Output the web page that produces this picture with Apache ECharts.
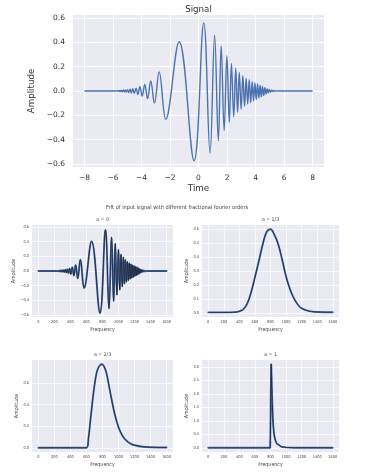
<!DOCTYPE html>
<html><head><meta charset="utf-8">
<script src="https://cdn.jsdelivr.net/npm/echarts@6/dist/echarts.min.js"></script>
<style>html,body{margin:0;padding:0;background:#fff}#c{width:375px;height:474px}</style>
</head><body><div id="c"></div><script>
// ---- Signal (time domain): extrema of the chirp ----
const sigT = [-8, -5.85, -5.75, -5.712, -5.672, -5.63, -5.586, -5.54, -5.492, -5.441, -5.387, -5.33, -5.27, -5.205, -5.135, -5.06, -4.98, -4.895, -4.805, -4.71, -4.61, -4.50, -4.38, -4.25, -4.11, -3.95, -3.77, -3.57, -3.35, -3.09, -2.76, -2.30, -1.36, -0.31, 0.37, 0.81, 1.13, 1.39, 1.59, 1.80, 1.99, 2.16, 2.31, 2.47, 2.61, 2.74, 2.86, 2.99, 3.11, 3.23, 3.34, 3.45, 3.555, 3.66, 3.76, 3.857, 3.953, 4.047, 4.139, 4.229, 4.317, 4.403, 4.488, 4.571, 4.653, 4.733, 4.812, 4.89, 4.967, 5.043, 5.117, 5.19, 5.262, 5.333, 5.403, 5.472, 5.54, 5.607, 5.673, 5.75, 8];
const sigV = [0, 0, 0.001, -0.0014, 0.0017, -0.002, 0.0025, -0.003, 0.0035, -0.004, 0.0045, -0.005, 0.006, -0.007, 0.008, -0.009, 0.011, -0.012, 0.014, -0.016, 0.018, -0.02, 0.024, -0.029, 0.036, -0.042, 0.053, -0.063, 0.083, -0.1, 0.157, -0.232, 0.405, -0.573, 0.56, -0.51, 0.458, -0.41, 0.371, -0.325, 0.29, -0.258, 0.226, -0.212, 0.187, -0.176, 0.153, -0.15, 0.126, -0.127, 0.105, -0.108, 0.093, -0.095, 0.079, -0.082, 0.068, -0.07, 0.057, -0.058, 0.047, -0.048, 0.037, -0.038, 0.027, -0.025, 0.019, -0.016, 0.012, -0.009, 0.007, -0.005, 0.0035, -0.0025, 0.0018, -0.0012, 0.0008, -0.0005, 0.0003, 0, 0];

// ---- FrFT a = 1/3 ----
const frq13 = [0, 200, 350, 400, 450, 500, 550, 600, 650, 700, 750, 800, 850, 900, 950, 1000, 1050, 1100, 1150, 1200, 1300, 1400, 1600];
const amp13 = [0.003, 0.003, 0.005, 0.011, 0.025, 0.065, 0.145, 0.255, 0.37, 0.49, 0.58, 0.60, 0.56, 0.49, 0.38, 0.26, 0.17, 0.105, 0.06, 0.032, 0.012, 0.006, 0.004];

// ---- FrFT a = 2/3 ----
const frq23 = [0, 600, 625, 650, 675, 700, 725, 750, 775, 795, 825, 850, 875, 900, 950, 1000, 1050, 1100, 1150, 1200, 1300, 1400, 1600];
const amp23 = [0, 0, 0.09, 0.26, 0.43, 0.58, 0.69, 0.745, 0.77, 0.775, 0.745, 0.69, 0.60, 0.50, 0.32, 0.19, 0.11, 0.065, 0.038, 0.024, 0.01, 0.005, 0.003];

// ---- FrFT a = 1 ----
const frq1 = [0, 795, 797, 800, 803, 806, 809, 811, 814, 818, 822, 826, 830, 836, 844, 852, 864, 880, 900, 940, 1000, 1100, 1600];
const amp1 = [0, 0, 0.2, 0.9, 1.8, 2.6, 3.1, 2.95, 2.6, 2.15, 1.75, 1.4, 1.1, 0.8, 0.55, 0.4, 0.27, 0.16, 0.1, 0.04, 0.015, 0.004, 0];

// ---- tick labels ----
const timeTicks = [-8, -6, -4, -2, 0, 2, 4, 6, 8];
const ampTicks = [-0.6, -0.4, -0.2, 0, 0.2, 0.4, 0.6];
const freqTicks = [0, 200, 400, 600, 800, 1000, 1200, 1400, 1600];
const ticks13 = [0, 0.1, 0.2, 0.3, 0.4, 0.5, 0.6];
const ticks23 = [0, 0.2, 0.4, 0.6];
const ticks1 = [0, 0.5, 1, 1.5, 2, 2.5, 3];
const subTitles = ['a = 0', 'a = 1/3', 'a = 2/3', 'a = 1'];
const mainTitle = 'Signal';
const supTitle = 'Frft of input signal with different fractional fourier orders';

const BG = '#EAEAF2', BLUE = '#4c72b0';
const FTOP = "'DejaVu Sans', sans-serif";
const FSUB = "'Liberation Sans Narrow', 'DejaVu Sans Condensed', 'DejaVu Sans', sans-serif";
const fmt = d => v => (v < 0 ? '\u2212' : '') + Math.abs(v).toFixed(d);

function axis(gi, min, max, ticks, dec, o) {
  return {
    type: 'value', gridIndex: gi, min: min, max: max,
    axisLine: {show: false},
    axisTick: {show: false, customValues: ticks},
    axisLabel: {customValues: ticks, formatter: fmt(dec), color: o.color, fontSize: o.fs, fontFamily: o.font, margin: o.margin},
    splitLine: {show: true, lineStyle: {color: '#ffffff', width: o.sw}},
    name: o.name || '', nameLocation: 'middle', nameGap: o.gap || 0, nameRotate: o.rot,
    nameTextStyle: {color: o.color, fontSize: o.nfs, fontFamily: o.font}
  };
}
const topO = {color: '#333', fs: 7.5, font: FTOP, sw: 1.1, nfs: 8.7};
const subO = {color: '#444', fs: 3.9, font: FSUB, sw: 0.7, nfs: 5.3};

const grids = [
  {left: 73, top: 15, width: 251, height: 152},
  {left: 32, top: 225, width: 141, height: 92},
  {left: 202, top: 225, width: 137, height: 92},
  {left: 32, top: 360, width: 141, height: 92},
  {left: 202, top: 360, width: 137, height: 92}
].map(g => Object.assign({show: true, backgroundColor: BG, borderWidth: 0}, g));

const xAxes = [
  axis(0, -8.8, 8.8, timeTicks, 0, Object.assign({}, topO, {margin: 7, name: 'Time', gap: 17})),
  axis(1, -80, 1680, freqTicks, 0, Object.assign({}, subO, {margin: 3, name: 'Frequency', gap: 10})),
  axis(2, -80, 1680, freqTicks, 0, Object.assign({}, subO, {margin: 3, name: 'Frequency', gap: 10})),
  axis(3, -80, 1680, freqTicks, 0, Object.assign({}, subO, {margin: 3, name: 'Frequency', gap: 10})),
  axis(4, -80, 1680, freqTicks, 0, Object.assign({}, subO, {margin: 3, name: 'Frequency', gap: 10}))
];
const yAxes = [
  axis(0, -0.625, 0.625, ampTicks, 1, Object.assign({}, topO, {margin: 8, name: 'Amplitude', gap: 31, rot: 90})),
  axis(1, -0.625, 0.625, ampTicks, 1, Object.assign({}, subO, {margin: 3, name: 'Amplitude', gap: 14, rot: 90})),
  axis(2, -0.03, 0.63, ticks13, 1, Object.assign({}, subO, {margin: 3, name: 'Amplitude', gap: 11, rot: 90})),
  axis(3, -0.039, 0.814, ticks23, 1, Object.assign({}, subO, {margin: 3, name: 'Amplitude', gap: 11, rot: 90})),
  axis(4, -0.155, 3.255, ticks1, 1, Object.assign({}, subO, {margin: 3, name: 'Amplitude', gap: 11, rot: 90}))
];

const sigData = sigT.map((t, i) => [t, sigV[i]]);
const a0Data = sigT.map((t, i) => [(t + 8) * 100, sigV[i]]);
const pair = (xs, ys) => xs.map((x, i) => [x, ys[i]]);

function dual(gi, data, smooth) {
  return [
    {type: 'line', xAxisIndex: gi, yAxisIndex: gi, data: data, smooth: smooth, showSymbol: false,
     lineStyle: {color: BLUE, width: 1.9, cap: 'round'}, silent: true},
    {type: 'line', xAxisIndex: gi, yAxisIndex: gi, data: data, smooth: smooth, showSymbol: false,
     lineStyle: {color: '#1c1f2a', width: 0.8}, silent: true}
  ];
}

const series = [
  {type: 'line', xAxisIndex: 0, yAxisIndex: 0, data: sigData, smooth: 0.4, showSymbol: false,
   lineStyle: {color: BLUE, width: 1.4}}
].concat(
  dual(1, a0Data, 0.4),
  dual(2, pair(frq13, amp13), 0.4),
  dual(3, pair(frq23, amp23), 0.3),
  dual(4, pair(frq1, amp1), false),
  [{type: 'scatter', xAxisIndex: 4, yAxisIndex: 4, data: pair(frq1, amp1).slice(1, 12), symbolSize: 2,
    itemStyle: {color: BLUE}, z: 1}]
);

const tt = (text, cx, cy, fs, font) => ({
  text: text, left: cx, top: cy - fs / 2, textAlign: 'center', padding: 0,
  textStyle: {fontSize: fs, lineHeight: fs, fontWeight: 'normal', color: fs > 7 ? '#333' : '#444', fontFamily: font}
});
const titles = [
  tt(mainTitle, 198.5, 10, 8.7, FTOP),
  tt(supTitle, 177, 207.5, 5.6, FSUB),
  tt(subTitles[0], 102.5, 220, 5.2, FSUB),
  tt(subTitles[1], 270.5, 220, 5.2, FSUB),
  tt(subTitles[2], 102.5, 355, 5.2, FSUB),
  tt(subTitles[3], 270.5, 355, 5.2, FSUB)
];

const chart = echarts.init(document.getElementById('c'), null, {renderer: 'canvas'});
chart.setOption({animation: false, backgroundColor: '#fff', title: titles, grid: grids, xAxis: xAxes, yAxis: yAxes, series: series});
</script></body></html>
